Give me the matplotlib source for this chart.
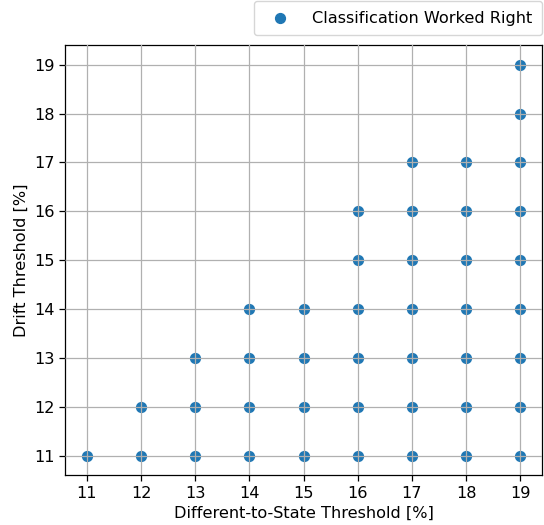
import numpy as np
import matplotlib
matplotlib.use("Agg")
import matplotlib.pyplot as plt

# highest drift threshold that still classified right, per different-to-state threshold
diff_thresholds = [11, 12, 13, 14, 15, 16, 17, 18, 19]
max_drift = [11, 12, 13, 14, 14, 16, 17, 17, 19]
min_drift = 11

xs = []
ys = []
for d, top in zip(diff_thresholds, max_drift):
    for dr in range(min_drift, top + 1):
        xs.append(d)
        ys.append(dr)

plt.rcParams['font.size'] = 11.6

fig = plt.figure(figsize=(5.44, 5.25), dpi=100)
ax = fig.add_axes([0.12, 0.095, 0.876, 0.819])
ax.scatter(xs, ys, color='#1f77b4', s=50, zorder=2, label='Classification Worked Right')
ax.set_xticks(diff_thresholds)
ax.set_yticks(range(11, 20))
ax.grid(True, color='#b0b0b0', linewidth=0.9, zorder=3)
ax.set_axisbelow(False)
ax.tick_params(width=0.9, length=4)
for sp in ax.spines.values():
    sp.set_linewidth(0.9)
ax.set_xlabel('Different-to-State Threshold [%]')
ax.set_ylabel('Drift Threshold [%]')
ax.legend(loc='lower right', bbox_to_anchor=(1.0, 1.023), borderaxespad=0.0,
          borderpad=0.6, handletextpad=1.0)

plt.savefig('out.png', dpi=100)
